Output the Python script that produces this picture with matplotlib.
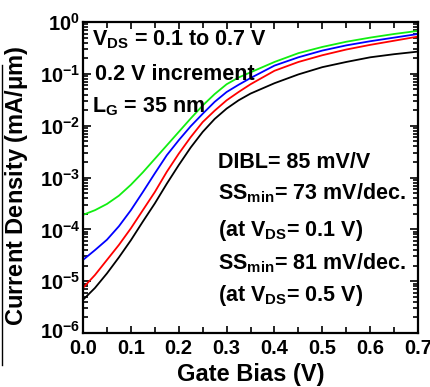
import numpy as np
import matplotlib
matplotlib.use('Agg')
import matplotlib.pyplot as plt
import matplotlib.transforms as mtransforms
from matplotlib.ticker import FixedLocator, LogLocator, NullFormatter, MultipleLocator
from matplotlib.lines import Line2D

plt.rcParams['font.family'] = ['Liberation Sans', 'DejaVu Sans']
plt.rcParams['font.weight'] = 'bold'
plt.rcParams['mathtext.fontset'] = 'custom'
plt.rcParams['mathtext.rm'] = 'Liberation Sans:bold'
plt.rcParams['mathtext.it'] = 'Liberation Sans:bold'
plt.rcParams['mathtext.bf'] = 'Liberation Sans:bold'
plt.rcParams['mathtext.default'] = 'regular'

# gate bias (V)
vg = [0.0, 0.025, 0.05, 0.075, 0.1, 0.125, 0.15, 0.175, 0.2, 0.225, 0.25, 0.275,
      0.3, 0.325, 0.35, 0.4, 0.45, 0.5, 0.55, 0.6, 0.65, 0.7]

# log10 of current density (mA/um), VDS = 0.1, 0.3, 0.5, 0.7 V
log_j_01 = [-5.36, -5.13, -4.85, -4.54, -4.21, -3.85, -3.50, -3.12, -2.76, -2.42, -2.12, -1.87,
            -1.67, -1.51, -1.38, -1.18, -1.01, -0.87, -0.77, -0.68, -0.62, -0.57]
log_j_03 = [-5.13, -4.88, -4.59, -4.30, -3.98, -3.63, -3.28, -2.89, -2.54, -2.22, -1.93, -1.71,
            -1.51, -1.35, -1.20, -0.94, -0.77, -0.64, -0.53, -0.44, -0.36, -0.28]
log_j_05 = [-4.59, -4.40, -4.20, -3.94, -3.63, -3.28, -2.92, -2.57, -2.28, -2.01, -1.77, -1.54,
            -1.35, -1.21, -1.08, -0.84, -0.68, -0.55, -0.45, -0.37, -0.30, -0.23]
log_j_07 = [-3.72, -3.63, -3.51, -3.35, -3.14, -2.90, -2.64, -2.38, -2.12, -1.86, -1.61, -1.39,
            -1.20, -1.07, -0.97, -0.77, -0.60, -0.48, -0.38, -0.30, -0.23, -0.17]

colors = ['black', '#ff0000', '#0000ff', '#11ee11']

fig = plt.figure(figsize=(4.31, 3.87), dpi=100)
ax = fig.add_axes([0.1926, 0.1395, 0.7774, 0.8035])

for lj, c in zip([log_j_01, log_j_03, log_j_05, log_j_07], colors):
    ax.plot(vg, 10.0 ** np.array(lj), color=c, lw=1.3)

ax.set_yscale('log')
ax.set_xlim(0, 0.7)
ax.set_ylim(1e-6, 1)

ax.set_xticks([0, 0.1, 0.2, 0.3, 0.4, 0.5, 0.6, 0.7])
ax.set_xticklabels(['0.0', '0.1', '0.2', '0.3', '0.4', '0.5', '0.6', '0.7'])
ax.xaxis.set_minor_locator(MultipleLocator(0.05))
ax.yaxis.set_major_locator(FixedLocator([1e-6, 1e-5, 1e-4, 1e-3, 1e-2, 1e-1, 1]))
ax.set_yticklabels([r'$10^{-6}$', r'$10^{-5}$', r'$10^{-4}$', r'$10^{-3}$',
                    r'$10^{-2}$', r'$10^{-1}$', r'$10^{0}$'])
ax.yaxis.set_minor_locator(LogLocator(base=10, subs=np.arange(2, 10), numticks=20))
ax.yaxis.set_minor_formatter(NullFormatter())

ax.tick_params(axis='both', which='both', direction='in', top=True, right=True,
               width=1.2, labelsize=14.5)
ax.tick_params(axis='x', which='major', length=5, pad=4)
ax.tick_params(axis='x', which='minor', length=4)
ax.tick_params(axis='y', which='major', length=6, pad=2)
ax.tick_params(axis='y', which='minor', length=3.5)
for s in ax.spines.values():
    s.set_linewidth(1.6)

# lift the bottom y label a touch so it clears the "0.0" label
lbl = ax.get_yticklabels()[0]
lbl.set_transform(lbl.get_transform() + mtransforms.ScaledTranslation(0, 3 / 100, fig.dpi_scale_trans))

ax.set_xlabel('Gate Bias (V)', fontsize=17, fontweight='bold')
ax.set_ylabel(r'Current Density (mA/$\mu$m)', fontsize=17, fontweight='bold')
ax.xaxis.set_label_coords(0.5, -0.096)
ax.yaxis.set_label_coords(-0.158, 0.475)

fs = 15.5
ax.text(0.027, 0.942, r'V$_{DS}$ = 0.1 to 0.7 V', transform=ax.transAxes, fontsize=fs, va='center')
ax.text(0.036, 0.83, '0.2 V increment', transform=ax.transAxes, fontsize=fs, va='center')
ax.text(0.027, 0.727, r'L$_{G}$ = 35 nm', transform=ax.transAxes, fontsize=fs, va='center')

ax.text(0.403, 0.547, 'DIBL= 85 mV/V', transform=ax.transAxes, fontsize=fs, va='center')
ax.text(0.403, 0.45, r'SS$_{min}$= 73 mV/dec.', transform=ax.transAxes, fontsize=fs, va='center')
ax.text(0.403, 0.331, r'(at V$_{DS}$= 0.1 V)', transform=ax.transAxes, fontsize=fs, va='center')
ax.text(0.403, 0.225, r'SS$_{min}$= 81 mV/dec.', transform=ax.transAxes, fontsize=fs, va='center')
ax.text(0.403, 0.122, r'(at V$_{DS}$= 0.5 V)', transform=ax.transAxes, fontsize=fs, va='center')

# stray border line at the left edge of the source image
fig.add_artist(Line2D([2 / 431, 2 / 431], [1 - 65 / 387, 1 - 365 / 387], color='black', lw=1))

fig.savefig('out.png', dpi=100)
